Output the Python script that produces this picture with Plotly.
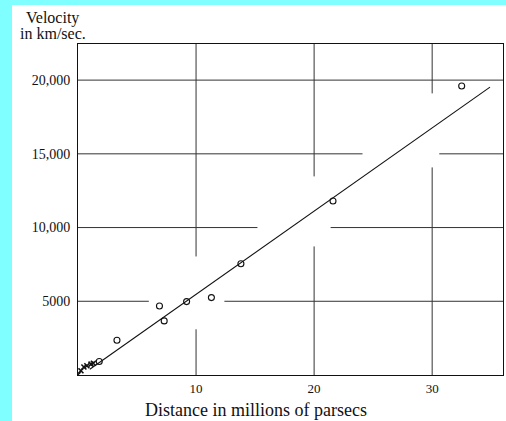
import plotly.graph_objects as go

# ---- data ----
dist = [32.5, 21.6, 13.8, 11.3, 9.2, 6.9, 7.3, 3.3, 1.8]
vel = [19600, 11800, 7550, 5250, 4980, 4680, 3670, 2360, 920]

near_dist = [0.0, 0.25, 0.5, 0.75, 1.1, 1.3]
near_vel = [30, 290, 540, 630, 740, 800]

fit_dist = [1.0, 34.9]
fit_slope = 564.6
fit_icept = -177
fit_vel = [fit_slope * d + fit_icept for d in fit_dist]

x_ticks = [10, 20, 30]
x_ticktext = ["10", "20", "30"]
y_ticks = [5000, 10000, 15000, 20000]
y_ticktext = ["5000", "10,000", "15,000", "20,000"]

X_MAX = 36.0
Y_MAX = 22450

# grid segments (broken printed grid lines), in data units
h_grid = {
    20000: [(0, X_MAX)],
    15000: [(0, 24.1), (30.6, X_MAX)],
    10000: [(0, 15.2), (21.4, X_MAX)],
    5000: [(0, 6.0), (12.4, X_MAX)],
}
v_grid = {
    10: [(0, 3100), (8040, Y_MAX)],
    20: [(0, 8720), (13470, Y_MAX)],
    30: [(0, 14080), (19100, Y_MAX)],
}

FONT = "Liberation Serif, DejaVu Serif, serif"
CYAN = "#7fffff"

fig = go.Figure()

fig.add_trace(go.Scatter(
    x=fit_dist, y=fit_vel, mode="lines",
    line=dict(color="#111", width=1.1), hoverinfo="skip", showlegend=False))

fig.add_trace(go.Scatter(
    x=dist, y=vel, mode="markers",
    marker=dict(symbol="circle-open", size=6, color="#111", line=dict(width=1.1)),
    showlegend=False))

fig.add_trace(go.Scatter(
    x=near_dist, y=near_vel, mode="markers",
    marker=dict(symbol="x-thin-open", size=5, color="#111", line=dict(width=1.6)),
    showlegend=False))

shapes = []
for yv, segs in h_grid.items():
    for a, b in segs:
        shapes.append(dict(type="line", xref="x", yref="y", x0=a, x1=b, y0=yv, y1=yv,
                           line=dict(color="#333", width=1), layer="below"))
for xv, segs in v_grid.items():
    for a, b in segs:
        shapes.append(dict(type="line", xref="x", yref="y", x0=xv, x1=xv, y0=a, y1=b,
                           line=dict(color="#333", width=1), layer="below"))

# cyan scan border (left and top)
shapes.append(dict(type="rect", xref="paper", yref="paper",
                   x0=-0.19, x1=-0.1553, y0=-0.2, y1=1.2,
                   fillcolor=CYAN, line=dict(width=0), layer="above"))
shapes.append(dict(type="rect", xref="paper", yref="paper",
                   x0=-0.19, x1=1.05, y0=1.1178, y1=1.2,
                   fillcolor=CYAN, line=dict(width=0), layer="above"))

annotations = [
    dict(text="Velocity", xref="paper", yref="paper", x=-0.059, y=1.0785,
         showarrow=False, xanchor="center", yanchor="middle",
         font=dict(family=FONT, size=16, color="#111")),
    dict(text="in km/sec.", xref="paper", yref="paper", x=-0.059, y=1.0332,
         showarrow=False, xanchor="center", yanchor="middle",
         font=dict(family=FONT, size=16, color="#111")),
    dict(text="Distance in millions of parsecs", xref="paper", yref="paper",
         x=(256 - 78) / 425, y=-0.106, showarrow=False,
         xanchor="center", yanchor="middle",
         font=dict(family=FONT, size=18, color="#111")),
]

fig.update_layout(
    width=506, height=421,
    margin=dict(l=78, r=3, t=44, b=46),
    paper_bgcolor="white", plot_bgcolor="white",
    shapes=shapes, annotations=annotations,
    font=dict(family=FONT, color="#111"),
    xaxis=dict(range=[0, X_MAX], tickvals=x_ticks, ticktext=x_ticktext,
               showgrid=False, zeroline=False, showline=True, mirror=True,
               linecolor="#111", linewidth=1, ticks="",
               tickfont=dict(family=FONT, size=13, color="#111"),
               ticklabelstandoff=1),
    yaxis=dict(range=[0, Y_MAX], tickvals=y_ticks, ticktext=y_ticktext,
               showgrid=False, zeroline=False, showline=True, mirror=True,
               linecolor="#111", linewidth=1, ticks="",
               tickfont=dict(family=FONT, size=14, color="#111"),
               ticklabelstandoff=4),
)

fig.write_html("out.html")
